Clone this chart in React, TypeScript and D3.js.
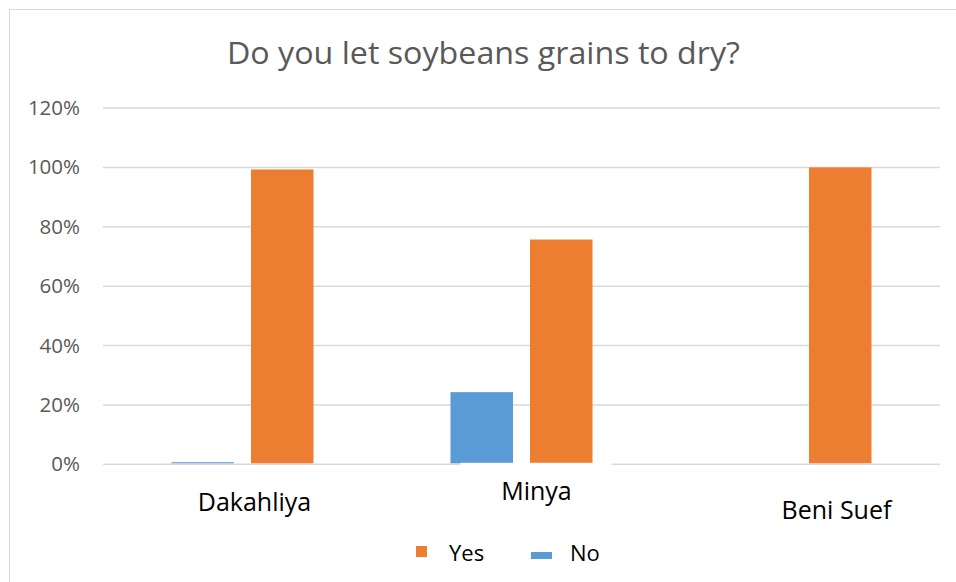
import React from "react";
import * as d3 from "d3";

const categories = ["Dakahliya", "Minya", "Beni Suef"];
const seriesNames = ["No", "Yes"];
const noValues = [0.7, 24.3, 0];
const yesValues = [99.3, 75.7, 100];
const yTicks = [0, 20, 40, 60, 80, 100, 120];
const legendOrder = ["Yes", "No"];

const colors: Record<string, string> = { Yes: "#ED7D31", No: "#5B9BD5" };
// label placement quirks of the original (dx, dy relative to category center / baseline)
const labelOffsets = [
  [12, 47],
  [15, 36],
  [36, 55],
];

const W = 956;
const H = 582;
const M = { left: 103, right: 940, top: 108, bottom: 464.3 };
const FONT = "'Open Sans', 'DejaVu Sans', sans-serif";

export default function App() {
  React.useEffect(() => {
    document.body.style.margin = "0";
  }, []);

  const x = d3
    .scaleBand<string>()
    .domain(categories)
    .range([M.left, M.right])
    .paddingInner(0)
    .paddingOuter(0);
  const y = d3.scaleLinear().domain([0, 120]).range([M.bottom, M.top]);

  const barW = 62.5;
  const gap = 17;
  const seriesVals: Record<string, number[]> = { No: noValues, Yes: yesValues };

  return (
    <svg width={W} height={H} style={{ display: "block", background: "#fff" }}>
      <rect x={9.5} y={9.5} width={W + 10} height={H + 10} fill="#fff" stroke="#D9D9D9" strokeWidth={1} />
      <text x={483.5} y={64} textAnchor="middle" fontFamily={FONT} fontSize={31} fill="#595959" textLength={513} lengthAdjust="spacingAndGlyphs">
        Do you let soybeans grains to dry?
      </text>
      {yTicks.map((t) => (
        <g key={t}>
          <line x1={M.left} x2={M.right} y1={y(t)} y2={y(t)} stroke="#D9D9D9" strokeWidth={1.5} />
          <text x={80} y={y(t) + 7} textAnchor="end" fontFamily={FONT} fontSize={20.5} fill="#595959">
            {t}%
          </text>
        </g>
      ))}
      {categories.map((c, i) => {
        const cx = (x(c) as number) + x.bandwidth() / 2;
        return (
          <g key={c}>
            {seriesNames.map((s, j) => {
              const v = seriesVals[s][i];
              if (v <= 0) return null;
              const bx = j === 0 ? cx - gap / 2 - barW : cx + gap / 2;
              const top = y(v);
              return (
                <rect key={s} x={bx} y={top} width={barW} height={Math.max(1, M.bottom - 1 - top)} fill={colors[s]} />
              );
            })}
          </g>
        );
      })}
      {/* white box behind Minya label, as in the original */}
      {(() => {
        const c = categories[1];
        const cx = (x(c) as number) + x.bandwidth() / 2;
        return <rect x={cx - 61} y={M.bottom - 1.5} width={151} height={40} fill="#fff" />;
      })()}
      {categories.map((c, i) => {
        const cx = (x(c) as number) + x.bandwidth() / 2;
        return (
          <text
            key={c}
            x={cx + labelOffsets[i][0]}
            y={M.bottom + labelOffsets[i][1]}
            textAnchor="middle"
            fontFamily={FONT}
            fontSize={25}
            fill="#000"
          >
            {c}
          </text>
        );
      })}
      {legendOrder.map((s, i) => {
        const lx = i === 0 ? 416 : 531;
        return (
          <g key={s}>
            {s === "Yes" ? (
              <rect x={lx} y={546} width={11} height={11} fill={colors[s]} />
            ) : (
              <rect x={lx} y={552} width={21} height={7} fill={colors[s]} />
            )}
            <text x={i === 0 ? 449 : 570} y={561} fontFamily={FONT} fontSize={22} fill="#000">
              {s}
            </text>
          </g>
        );
      })}
    </svg>
  );
}
